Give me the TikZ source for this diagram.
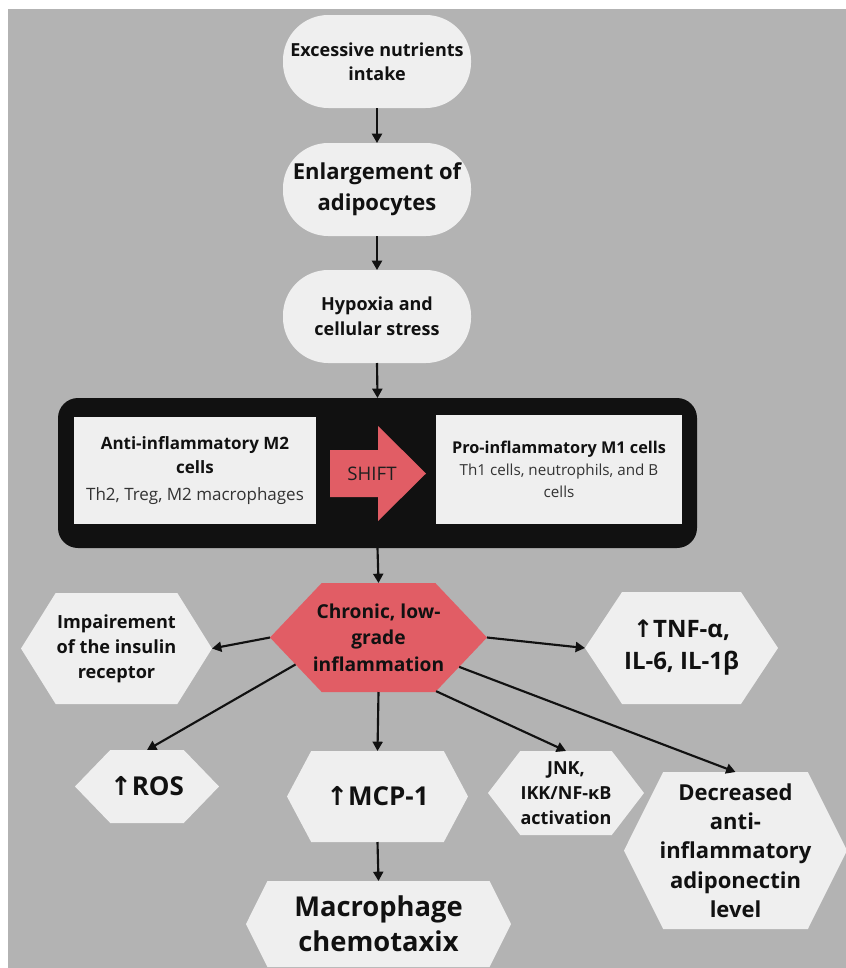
\documentclass[tikz,border=0pt]{standalone}
\usepackage{fontspec}
\setmainfont{Open Sans}
\newfontfamily\arrowfont{DejaVu Sans}
\usepackage{xcolor}
\usetikzlibrary{arrows.meta,shapes.symbols}
\definecolor{bggrey}{RGB}{179,179,179}
\definecolor{boxfill}{RGB}{239,239,239}
\definecolor{inflred}{RGB}{225,93,101}
\definecolor{panelblk}{RGB}{17,17,17}
\definecolor{txtdark}{RGB}{17,17,17}
\definecolor{subtext}{RGB}{51,51,51}
\newcommand{\uparr}{{\arrowfont ↑}}

\begin{document}
\begin{tikzpicture}[x=0.75pt, y=-0.75pt,
  >={Triangle[length=7pt, width=7.5pt]},
  every node/.style={outer sep=0pt, inner sep=0pt, text=txtdark, align=center},
  pill/.style={fill=boxfill, rounded corners=34pt,
               minimum width=141pt, minimum height=69.75pt},
  hexa/.style={shape=signal, signal to=west and east, fill=boxfill},
  cellbox/.style={fill=boxfill},
  flow/.style={->, line width=1.6pt, draw=txtdark},
]
\useasboundingbox (0,0) rectangle (846,968);
\fill[bggrey] (8,9) rectangle (846,968);

% upstream chain
\node[pill, font=\bfseries\fontsize{13.5}{18}\selectfont] (nut) at (377,61.5)
  {Excessive nutrients\\intake};
\node[pill, font=\bfseries\fontsize{16.5}{23}\selectfont] (enl) at (377,189.5)
  {Enlargement of\\adipocytes};
\node[pill, font=\bfseries\fontsize{13.5}{18.5}\selectfont] (hyp) at (377,316.5)
  {Hypoxia and\\cellular stress};

% immune cell shift panel
\node[fill=panelblk, rounded corners=15pt, minimum width=479.25pt,
      minimum height=112.5pt] (panel) at (377.5,473) {};
\node[cellbox, minimum width=181.5pt, minimum height=80.25pt,
      font=\fontsize{12.75}{18}\selectfont] (m2) at (195,470.5)
  {\textbf{Anti-inflammatory M2}\\\textbf{cells}\\[2pt]
   \textcolor{subtext}{Th2, Treg, M2 macrophages}};
\node[cellbox, minimum width=184.5pt, minimum height=81.75pt,
      font=\fontsize{11.4}{16.5}\selectfont] (m1) at (559,469.5)
  {{\bfseries\fontsize{12.2}{16.5}\selectfont Pro-inflammatory M1 cells}\\
   \textcolor{subtext}{Th1 cells, neutrophils, and B}\\
   \textcolor{subtext}{cells}};
\fill[inflred] (330,450) -- (378,450) -- (378,426) -- (426,473.5)
  -- (378,521) -- (378,497) -- (330,497) -- cycle;
\node[font=\fontsize{14}{16}\selectfont, text=subtext!60!black] (shift) at (372,474) {SHIFT};

% inflammation and its outcomes
\node[hexa, fill=inflred, minimum width=162.75pt, minimum height=81.75pt,
      signal pointer angle=93,
      label={[font=\bfseries\fontsize{14.4}{20}\selectfont]center:{Chronic, low-\\grade\\inflammation}}]
  (chronic) at (378.5,637.5) {};
\node[hexa, minimum width=143.25pt, minimum height=83.25pt, signal pointer angle=116,
      label={[font=\bfseries\fontsize{13.6}{18.75}\selectfont]center:{Impairement\\of the insulin\\receptor}}]
  (impair) at (116.5,648.5) {};
\node[hexa, minimum width=144.75pt, minimum height=84pt, signal pointer angle=113,
      label={[font=\bfseries\fontsize{18}{24}\selectfont]center:{\uparr TNF-α,\\IL-6, IL-1β}}]
  (tnf) at (681.5,648) {};
\node[hexa, minimum width=108pt, minimum height=54.75pt, signal pointer angle=92,
      label={[font=\bfseries\fontsize{19.5}{24}\selectfont]center:{\uparr ROS}}]
  (ros) at (147,786.5) {};
\node[hexa, minimum width=135.75pt, minimum height=68.25pt, signal pointer angle=124,
      label={[font=\bfseries\fontsize{19.5}{24}\selectfont]center:{\uparr MCP-1}}]
  (mcp) at (377.5,796.5) {};
\node[hexa, minimum width=117pt, minimum height=63pt, signal pointer angle=105,
      label={[font=\bfseries\fontsize{13.5}{18.75}\selectfont]center:{JNK,\\IKK/NF-κB\\activation}}]
  (jnk) at (566,793) {};
\node[hexa, minimum width=167.25pt, minimum height=117.75pt, signal pointer angle=127,
      label={[font=\bfseries\fontsize{16.5}{22}\selectfont]center:{Decreased\\anti-\\inflammatory\\adiponectin\\level}}]
  (decr) at (735.5,850.5) {};
\node[hexa, minimum width=198.75pt, minimum height=64.5pt, signal pointer angle=127,
      label={[font=\bfseries\fontsize{20.5}{26}\selectfont]center:{Macrophage\\chemotaxix}}]
  (macro) at (378.5,924) {};

% connectors
\draw[flow] (nut.south) -- (enl.north);
\draw[flow] (enl.south) -- (hyp.north);
\draw[flow] (hyp.south) -- (panel.north);
\draw[flow] (panel.south) -- (chronic.north);
\draw[flow] (chronic.west) -- (impair.east);
\draw[flow] (chronic.east) -- (tnf.west);
\draw[flow] (chronic.198) -- (ros.north);
\draw[flow] (chronic.south) -- (mcp.north);
\draw[flow] (chronic.-43) -- (jnk.north);
\draw[flow] (chronic.-20) -- (decr.north);
\draw[flow] (mcp.south) -- (macro.north);
\end{tikzpicture}
\end{document}
